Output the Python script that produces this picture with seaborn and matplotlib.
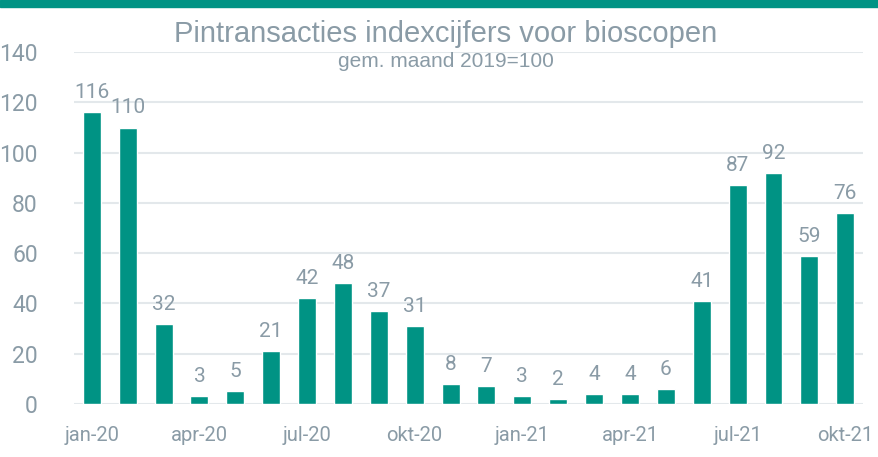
import matplotlib
matplotlib.use('Agg')
import matplotlib.pyplot as plt
import seaborn as sns
import pandas as pd

##### data #####
months = ['jan-20', 'feb-20', 'mrt-20', 'apr-20', 'mei-20', 'jun-20', 'jul-20', 'aug-20',
          'sep-20', 'okt-20', 'nov-20', 'dec-20', 'jan-21', 'feb-21', 'mrt-21', 'apr-21',
          'mei-21', 'jun-21', 'jul-21', 'aug-21', 'sep-21', 'okt-21']
index_values = [116, 110, 32, 3, 5, 21, 42, 48, 37, 31, 8, 7, 3, 2, 4, 4, 6, 41, 87, 92, 59, 76]
shown_ticks = ['jan-20', 'apr-20', 'jul-20', 'okt-20', 'jan-21', 'apr-21', 'jul-21', 'okt-21']

title = 'Pintransacties indexcijfers voor bioscopen'
subtitle = 'gem. maand 2019=100'

##### style #####
teal = '#009384'
grey_txt = '#8A9BA6'
grid_col = '#E3E8EB'

sns.set_style('white')
plt.rcParams['font.family'] = ['Roboto', 'DejaVu Sans']

df = pd.DataFrame({'Maand': months, 'Index': index_values})

fig = plt.figure(figsize=(8.79, 4.57), dpi=100)
ax = fig.add_axes([0.084, 0.116, 0.898, 0.770])

sns.barplot(data=df, x='Maand', y='Index', color=teal, width=0.5, saturation=1, ax=ax, zorder=3)

ax.set_xlim(-0.5, len(months) - 0.5)
ax.set_ylim(0, 140)
ax.set_yticks(range(0, 141, 20))
ax.yaxis.grid(True, color=grid_col, linewidth=1.5, zorder=0)
ax.set_axisbelow(True)
for s in ax.spines.values():
    s.set_visible(False)

ax.set_xlabel('')
ax.set_ylabel('')
ticks = [months.index(m) for m in shown_ticks]
ax.set_xticks(ticks)
ax.set_xticklabels(shown_ticks)
ax.tick_params(axis='x', colors=grey_txt, labelsize=14.5, length=0, pad=16)
ax.tick_params(axis='y', colors=grey_txt, labelsize=16.5, length=0, pad=26)

for i, v in enumerate(index_values):
    ax.text(i, v + 4, str(v), ha='center', va='bottom', color=grey_txt, fontsize=15, zorder=4)

# top band
fig.patches.append(plt.Rectangle((0, 0.985), 1, 0.015, transform=fig.transFigure,
                                 color=teal, zorder=0))

fig.text(0.507, 0.925, title, ha='center', va='center', color=grey_txt, fontsize=21,
         family=['Liberation Sans', 'DejaVu Sans'])
fig.text(0.507, 0.866, subtitle, ha='center', va='center', color=grey_txt, fontsize=15,
         family=['Liberation Sans', 'DejaVu Sans'])

plt.savefig('out.png', dpi=100)
